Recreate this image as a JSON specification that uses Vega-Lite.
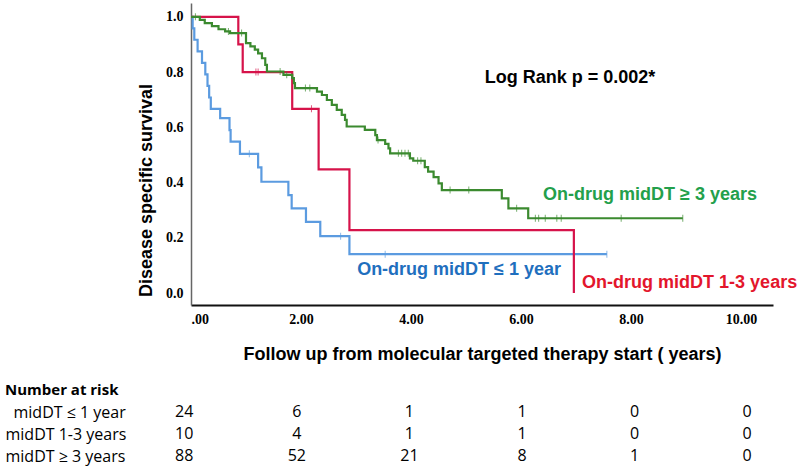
{
  "$schema": "https://vega.github.io/schema/vega-lite/v6.json",
  "padding": {"left": 5, "top": 3, "right": 0, "bottom": 0},
  "background": "white",
  "config": {"view": {"stroke": null}, "axis": {"grid": false}},
  "spacing": 20,
  "datasets": {
    "km": [
      {"group": "blue", "t": 0, "s": 1.0},
      {"group": "blue", "t": 0.03, "s": 0.958},
      {"group": "blue", "t": 0.06, "s": 0.917},
      {"group": "blue", "t": 0.12, "s": 0.875},
      {"group": "blue", "t": 0.2, "s": 0.833},
      {"group": "blue", "t": 0.26, "s": 0.792},
      {"group": "blue", "t": 0.3, "s": 0.75},
      {"group": "blue", "t": 0.33, "s": 0.708},
      {"group": "blue", "t": 0.36, "s": 0.667},
      {"group": "blue", "t": 0.53, "s": 0.633},
      {"group": "blue", "t": 0.7, "s": 0.59},
      {"group": "blue", "t": 0.72, "s": 0.548},
      {"group": "blue", "t": 0.89, "s": 0.504},
      {"group": "blue", "t": 1.22, "s": 0.455},
      {"group": "blue", "t": 1.28, "s": 0.403},
      {"group": "blue", "t": 1.77, "s": 0.355},
      {"group": "blue", "t": 1.83, "s": 0.307},
      {"group": "blue", "t": 2.09, "s": 0.258},
      {"group": "blue", "t": 2.35, "s": 0.206},
      {"group": "blue", "t": 2.88, "s": 0.141},
      {"group": "blue", "t": 7.56, "s": 0.141},
      {"group": "red", "t": 0, "s": 1.0},
      {"group": "red", "t": 0.86, "s": 0.9},
      {"group": "red", "t": 0.94, "s": 0.8},
      {"group": "red", "t": 1.84, "s": 0.667},
      {"group": "red", "t": 2.32, "s": 0.448},
      {"group": "red", "t": 2.88, "s": 0.228},
      {"group": "red", "t": 6.96, "s": 0.0},
      {"group": "green", "t": 0, "s": 1.0},
      {"group": "green", "t": 0.16, "s": 0.989},
      {"group": "green", "t": 0.25, "s": 0.977},
      {"group": "green", "t": 0.38, "s": 0.966},
      {"group": "green", "t": 0.5, "s": 0.955},
      {"group": "green", "t": 0.62, "s": 0.947},
      {"group": "green", "t": 0.71, "s": 0.941},
      {"group": "green", "t": 1.0, "s": 0.905},
      {"group": "green", "t": 1.08, "s": 0.893},
      {"group": "green", "t": 1.16, "s": 0.881},
      {"group": "green", "t": 1.22, "s": 0.868},
      {"group": "green", "t": 1.29, "s": 0.85},
      {"group": "green", "t": 1.35, "s": 0.826},
      {"group": "green", "t": 1.38, "s": 0.802},
      {"group": "green", "t": 1.68, "s": 0.79},
      {"group": "green", "t": 1.84, "s": 0.778},
      {"group": "green", "t": 1.87, "s": 0.76},
      {"group": "green", "t": 1.89, "s": 0.742},
      {"group": "green", "t": 2.29, "s": 0.729},
      {"group": "green", "t": 2.38, "s": 0.717},
      {"group": "green", "t": 2.47, "s": 0.699},
      {"group": "green", "t": 2.56, "s": 0.681},
      {"group": "green", "t": 2.65, "s": 0.663},
      {"group": "green", "t": 2.74, "s": 0.645},
      {"group": "green", "t": 2.8, "s": 0.627},
      {"group": "green", "t": 2.83, "s": 0.603},
      {"group": "green", "t": 3.16, "s": 0.591},
      {"group": "green", "t": 3.35, "s": 0.572},
      {"group": "green", "t": 3.38, "s": 0.554},
      {"group": "green", "t": 3.53, "s": 0.54},
      {"group": "green", "t": 3.59, "s": 0.524},
      {"group": "green", "t": 3.62, "s": 0.506},
      {"group": "green", "t": 3.98, "s": 0.488},
      {"group": "green", "t": 4.04, "s": 0.479},
      {"group": "green", "t": 4.25, "s": 0.456},
      {"group": "green", "t": 4.31, "s": 0.44},
      {"group": "green", "t": 4.41, "s": 0.42},
      {"group": "green", "t": 4.5, "s": 0.397},
      {"group": "green", "t": 4.56, "s": 0.373},
      {"group": "green", "t": 5.65, "s": 0.343},
      {"group": "green", "t": 5.77, "s": 0.307},
      {"group": "green", "t": 6.13, "s": 0.271},
      {"group": "green", "t": 8.94, "s": 0.271}
    ],
    "censor": [
      {"group": "blue", "t": 1.06, "s": 0.504},
      {"group": "blue", "t": 2.72, "s": 0.206},
      {"group": "blue", "t": 3.53, "s": 0.141},
      {"group": "blue", "t": 7.56, "s": 0.141},
      {"group": "red", "t": 1.18, "s": 0.8},
      {"group": "red", "t": 1.22, "s": 0.8},
      {"group": "red", "t": 2.19, "s": 0.667},
      {"group": "green", "t": 0.08, "s": 1.0},
      {"group": "green", "t": 0.68, "s": 0.947},
      {"group": "green", "t": 0.92, "s": 0.941},
      {"group": "green", "t": 1.62, "s": 0.802},
      {"group": "green", "t": 1.74, "s": 0.79},
      {"group": "green", "t": 2.08, "s": 0.742},
      {"group": "green", "t": 2.16, "s": 0.742},
      {"group": "green", "t": 3.4, "s": 0.554},
      {"group": "green", "t": 3.77, "s": 0.506},
      {"group": "green", "t": 3.83, "s": 0.506},
      {"group": "green", "t": 3.89, "s": 0.506},
      {"group": "green", "t": 3.95, "s": 0.506},
      {"group": "green", "t": 4.12, "s": 0.479},
      {"group": "green", "t": 4.18, "s": 0.479},
      {"group": "green", "t": 4.71, "s": 0.373},
      {"group": "green", "t": 5.05, "s": 0.373},
      {"group": "green", "t": 5.92, "s": 0.307},
      {"group": "green", "t": 6.26, "s": 0.271},
      {"group": "green", "t": 6.32, "s": 0.271},
      {"group": "green", "t": 6.44, "s": 0.271},
      {"group": "green", "t": 6.65, "s": 0.271},
      {"group": "green", "t": 6.73, "s": 0.271},
      {"group": "green", "t": 7.82, "s": 0.271},
      {"group": "green", "t": 8.94, "s": 0.271}
    ],
    "notes": [
      {"label": "Log Rank p = 0.002*", "kind": "p"},
      {"label": "On-drug midDT ≥ 3 years", "kind": "green"},
      {"label": "On-drug midDT ≤ 1 year", "kind": "blue"},
      {"label": "On-drug midDT 1-3 years", "kind": "red"}
    ],
    "risk": [
      {"row": "midDT ≤ 1 year", "t": 0, "n": "24"},
      {"row": "midDT ≤ 1 year", "t": 2, "n": "6"},
      {"row": "midDT ≤ 1 year", "t": 4, "n": "1"},
      {"row": "midDT ≤ 1 year", "t": 6, "n": "1"},
      {"row": "midDT ≤ 1 year", "t": 8, "n": "0"},
      {"row": "midDT ≤ 1 year", "t": 10, "n": "0"},
      {"row": "midDT 1-3 years", "t": 0, "n": "10"},
      {"row": "midDT 1-3 years", "t": 2, "n": "4"},
      {"row": "midDT 1-3 years", "t": 4, "n": "1"},
      {"row": "midDT 1-3 years", "t": 6, "n": "1"},
      {"row": "midDT 1-3 years", "t": 8, "n": "0"},
      {"row": "midDT 1-3 years", "t": 10, "n": "0"},
      {"row": "midDT ≥ 3 years", "t": 0, "n": "88"},
      {"row": "midDT ≥ 3 years", "t": 2, "n": "52"},
      {"row": "midDT ≥ 3 years", "t": 4, "n": "21"},
      {"row": "midDT ≥ 3 years", "t": 6, "n": "8"},
      {"row": "midDT ≥ 3 years", "t": 8, "n": "1"},
      {"row": "midDT ≥ 3 years", "t": 10, "n": "0"}
    ]
  },
  "vconcat": [
    {
      "width": 582,
      "height": 302,
      "layer": [
        {"data": {"name": "km"}, "mark": {"type": "line", "interpolate": "step-after", "strokeWidth": 2.2},
          "encoding": {
            "x": {"field": "t", "type": "quantitative",
              "scale": {"domain": [0, 10.58], "nice": false, "zero": false},
              "axis": {"values": [0, 2, 4, 6, 8, 10], "labelExpr": "datum.value == 0 ? '.00' : format(datum.value, '.2f')",
                "ticks": false, "tickSize": 0, "labelPadding": 7, "labelFont": "Liberation Serif", "labelFontWeight": "bold", "labelFontSize": 14, "labelColor": "#000",
                "domainColor": "#111", "domainWidth": 2,
                "title": "Follow up from molecular targeted therapy start ( years)", "titleFont": "Liberation Sans", "titleFontSize": 18, "titleFontWeight": "bold", "titleColor": "#000", "titlePadding": 19}},
            "y": {"field": "s", "type": "quantitative",
              "scale": {"domain": [-0.043, 1.05], "nice": false, "zero": false},
              "axis": {"values": [0, 0.2, 0.4, 0.6, 0.8, 1.0], "format": ".1f",
                "ticks": false, "tickSize": 0, "labelPadding": 8, "labelFont": "Liberation Serif", "labelFontWeight": "bold", "labelFontSize": 14, "labelColor": "#000",
                "domainColor": "#666", "domainWidth": 1.5,
                "title": "Disease specific survival", "titleFont": "Liberation Sans", "titleFontSize": 18, "titleFontWeight": "bold", "titleColor": "#000",
                "titleX": -45, "titleY": 187, "titleBaseline": "middle", "titleAngle": -90}},
            "color": {"field": "group", "type": "nominal",
              "scale": {"domain": ["blue", "red", "green"], "range": ["#5b9be0", "#d6134a", "#3b8a2f"]}, "legend": null}
          }},
        {"data": {"name": "censor"}, "mark": {"type": "tick", "orient": "vertical", "size": 7, "thickness": 1},
          "encoding": {
            "x": {"field": "t", "type": "quantitative"},
            "y": {"field": "s", "type": "quantitative"},
            "color": {"field": "group", "type": "nominal"}
          }},
        {"data": {"name": "notes"}, "transform": [{"filter": "datum.kind == 'p'"}],
          "mark": {"type": "text", "font": "Liberation Sans", "fontSize": 18, "fontWeight": "bold", "align": "center", "baseline": "middle", "color": "#000"},
          "encoding": {"x": {"datum": 6.89}, "y": {"datum": 0.78}, "text": {"field": "label"}}},
        {"data": {"name": "notes"}, "transform": [{"filter": "datum.kind == 'green'"}],
          "mark": {"type": "text", "font": "Liberation Sans", "fontSize": 18, "fontWeight": "bold", "align": "left", "baseline": "middle", "color": "#23a04b"},
          "encoding": {"x": {"datum": 6.4}, "y": {"datum": 0.355}, "text": {"field": "label"}}},
        {"data": {"name": "notes"}, "transform": [{"filter": "datum.kind == 'blue'"}],
          "mark": {"type": "text", "font": "Liberation Sans", "fontSize": 18, "fontWeight": "bold", "align": "left", "baseline": "middle", "color": "#1f6fbe"},
          "encoding": {"x": {"datum": 3.02}, "y": {"datum": 0.083}, "text": {"field": "label"}}},
        {"data": {"name": "notes"}, "transform": [{"filter": "datum.kind == 'red'"}],
          "mark": {"type": "text", "font": "Liberation Sans", "fontSize": 18, "fontWeight": "bold", "align": "left", "baseline": "middle", "color": "#e3162c"},
          "encoding": {"x": {"datum": 7.11}, "y": {"datum": 0.036}, "text": {"field": "label"}}}
      ]
    },
    {
      "width": 582,
      "height": 66,
      "title": {"text": "Number at risk", "anchor": "start", "frame": "bounds", "font": "Open Sans", "fontSize": 15, "fontWeight": "bold", "color": "#000", "offset": 3},
      "data": {"name": "risk"},
      "mark": {"type": "text", "font": "Open Sans", "fontSize": 16, "color": "#000", "align": "center", "baseline": "middle"},
      "encoding": {
        "x": {"field": "t", "type": "quantitative", "scale": {"domain": [0.12, 10.46], "nice": false, "zero": false}, "axis": null},
        "y": {"field": "row", "type": "nominal", "sort": ["midDT ≤ 1 year", "midDT 1-3 years", "midDT ≥ 3 years"],
          "scale": {"paddingInner": 0, "paddingOuter": 0},
          "axis": {"labelAlign": "left",
            "labelPadding": {"condition": {"test": "datum.value == 'midDT ≤ 1 year'", "value": 178}, "value": 186},
            "ticks": false, "domain": false, "title": null,
            "labelFont": "Open Sans", "labelFontSize": 16, "labelColor": "#000", "labelLimit": 300}},
        "text": {"field": "n"}
      }
    }
  ]
}
